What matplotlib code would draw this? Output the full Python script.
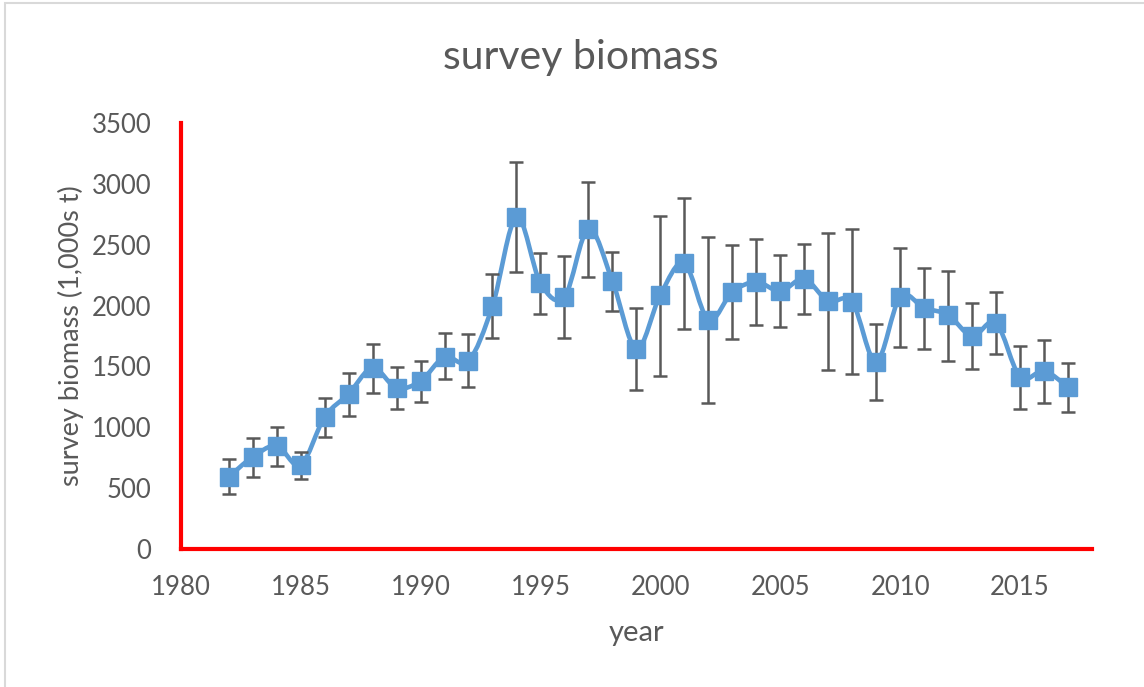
import matplotlib.pyplot as plt
from matplotlib.path import Path
from matplotlib.patches import PathPatch, Rectangle

plt.rcParams['font.family'] = ['Lato', 'DejaVu Sans']

# survey biomass by year with upper / lower error bounds (1,000s t)
years = [1982, 1983, 1984, 1985, 1986, 1987, 1988, 1989, 1990, 1991, 1992, 1993,
         1994, 1995, 1996, 1997, 1998, 1999, 2000, 2001, 2002, 2003, 2004, 2005,
         2006, 2007, 2008, 2009, 2010, 2011, 2012, 2013, 2014, 2015, 2016, 2017]
biomass = [591, 756, 846, 690, 1084, 1273, 1487, 1323, 1380, 1577, 1544, 1996,
           2727, 2185, 2070, 2629, 2202, 1643, 2087, 2349, 1881, 2111, 2193, 2119,
           2218, 2037, 2029, 1536, 2070, 1980, 1922, 1750, 1857, 1413, 1462, 1331]
upper = [739, 912, 1002, 797, 1240, 1446, 1684, 1495, 1544, 1774, 1766, 2259,
         3179, 2432, 2407, 3015, 2440, 1980, 2736, 2883, 2563, 2497, 2547, 2415,
         2506, 2596, 2629, 1848, 2473, 2308, 2284, 2021, 2111, 1668, 1717, 1528]
lower = [452, 591, 682, 575, 920, 1093, 1282, 1150, 1208, 1397, 1331, 1733,
         2276, 1930, 1733, 2235, 1955, 1306, 1421, 1807, 1199, 1725, 1840, 1824,
         1930, 1470, 1438, 1224, 1659, 1643, 1544, 1479, 1602, 1150, 1199, 1125]

blue = '#5B9BD5'
grey = '#595959'

fig = plt.figure(figsize=(11.44, 6.87), dpi=100)
ax = fig.add_axes([0.158, 0.201, 0.7965, 0.62])

# chart area border (light grey, cropped at right / bottom)
fig.patches.append(Rectangle((5 / 1144, -0.1), 1.2, 1.1 - 3 / 687, transform=fig.transFigure,
                             fill=False, edgecolor='#D9D9D9', linewidth=1.5))

# smoothed line like Excel (bezier through the points)
verts = [(years[0], biomass[0])]
codes = [Path.MOVETO]
n = len(years)
for i in range(n - 1):
    x0, y0 = (years[i - 1], biomass[i - 1]) if i > 0 else (years[i], biomass[i])
    x1, y1 = years[i], biomass[i]
    x2, y2 = years[i + 1], biomass[i + 1]
    x3, y3 = (years[i + 2], biomass[i + 2]) if i + 2 < n else (x2, y2)
    verts += [(x1 + (x2 - x0) / 6, y1 + (y2 - y0) / 6),
              (x2 - (x3 - x1) / 6, y2 - (y3 - y1) / 6),
              (x2, y2)]
    codes += [Path.CURVE4] * 3
ax.add_patch(PathPatch(Path(verts, codes), facecolor='none', edgecolor=blue,
                       linewidth=3.3, zorder=2))

yerr = [[b - lo for b, lo in zip(biomass, lower)], [u - b for b, u in zip(biomass, upper)]]
ax.errorbar(years, biomass, yerr=yerr, fmt='none', ecolor=grey, elinewidth=1.8,
            capsize=5, capthick=1.8, zorder=3)
ax.plot(years, biomass, linestyle='none', marker='s', markersize=13, color=blue, zorder=4)

ax.set_xlim(1980, 2018)
ax.set_ylim(0, 3500)
ax.set_xticks(range(1980, 2016, 5))
ax.set_yticks(range(0, 3501, 500))

for s in ['top', 'right']:
    ax.spines[s].set_visible(False)
for s in ['left', 'bottom']:
    ax.spines[s].set_color('red')
    ax.spines[s].set_linewidth(3)
ax.tick_params(length=0, labelsize=18.5, labelcolor=grey)
ax.tick_params(axis='y', pad=21)
ax.tick_params(axis='x', pad=19)

fig.text(581 / 1144, 1 - 57 / 687, 'survey biomass', fontsize=29.5, color=grey,
         ha='center', va='center')
ax.set_xlabel('year', fontsize=21, color=grey, labelpad=14)
ax.set_ylabel('survey biomass (1,000s t)', fontsize=19.5, color=grey, labelpad=6)

plt.savefig('out.png', dpi=100)
